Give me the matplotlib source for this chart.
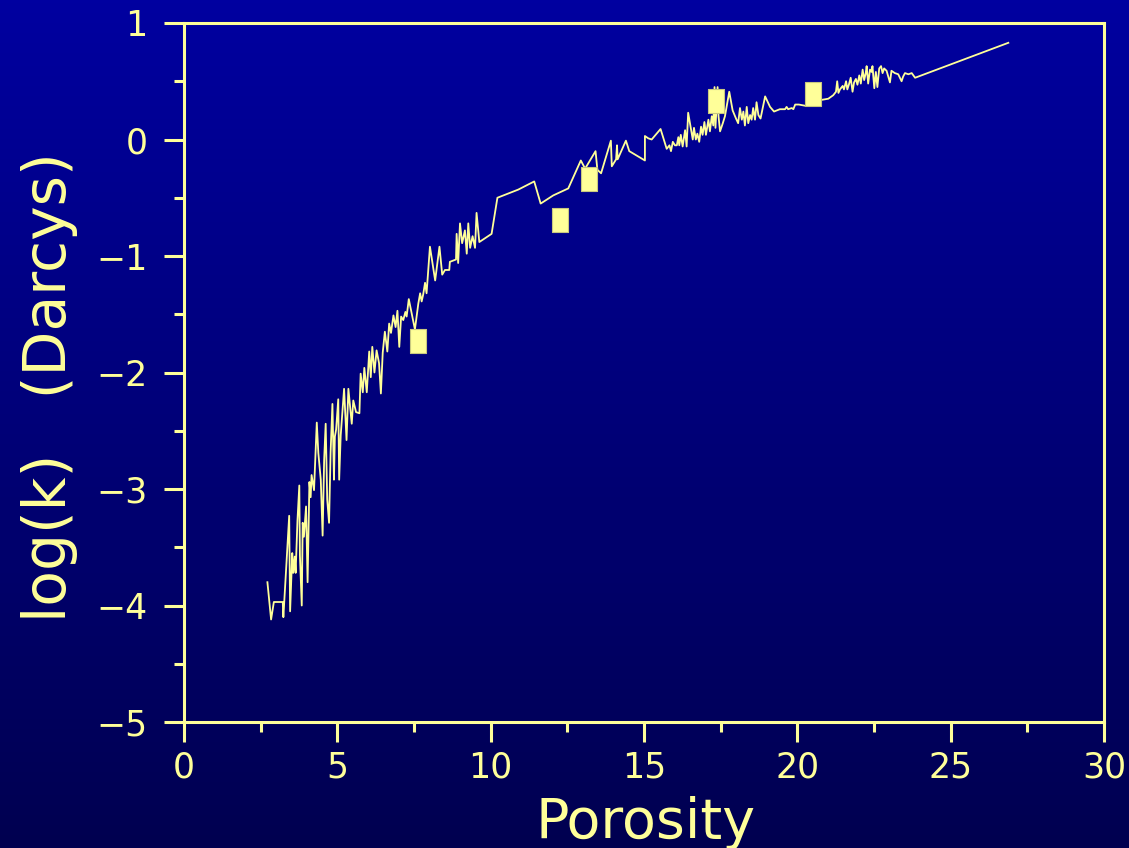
import numpy as np
import matplotlib
matplotlib.use("Agg")
import matplotlib.pyplot as plt
from matplotlib.path import Path
from matplotlib.ticker import MultipleLocator

# ---- data ----
porosity = [
    2.72, 2.84, 2.93, 3.22, 3.24, 3.43, 3.46, 3.53, 3.56, 3.61, 3.64, 3.70, 3.76, 3.78, 3.84,
    3.87, 3.91, 3.98, 4.03, 4.09, 4.13, 4.16, 4.24, 4.33, 4.38, 4.46, 4.52, 4.57, 4.62, 4.67,
    4.73, 4.78, 4.84, 4.89, 4.92, 4.96, 5.03, 5.06, 5.11, 5.22, 5.30, 5.36, 5.47, 5.52, 5.61,
    5.72, 5.76, 5.83, 5.88, 5.96, 6.04, 6.09, 6.14, 6.21, 6.28, 6.36, 6.42, 6.48, 6.55, 6.63,
    6.69, 6.75, 6.83, 6.90, 6.96, 7.02, 7.08, 7.15, 7.22, 7.26, 7.33, 7.53, 7.64, 7.70, 7.75,
    7.80, 7.86, 7.91, 8.02, 8.19, 8.33, 8.42, 8.51, 8.65, 8.67, 8.87, 8.89, 8.94, 9.00, 9.07,
    9.16, 9.22, 9.27, 9.33, 9.41, 9.49, 9.54, 9.63, 10.03, 10.22, 10.90, 11.42, 11.63, 12.04, 12.53,
    12.94, 13.08, 13.42, 13.48, 13.60, 13.92, 13.95, 14.09, 14.12, 14.14, 14.41, 14.52, 15.03, 15.03,
    15.14, 15.25, 15.54, 15.74, 15.83, 15.88, 15.94, 16.01, 16.07, 16.12, 16.15, 16.20, 16.26,
    16.34, 16.39, 16.44, 16.52, 16.59, 16.63, 16.69, 16.74, 16.80, 16.86, 16.91, 16.97, 17.02,
    17.10, 17.15, 17.21, 17.26, 17.30, 17.33, 17.40, 17.43, 17.48, 17.57, 17.64, 17.78, 17.89,
    18.00, 18.07, 18.13, 18.19, 18.24, 18.29, 18.35, 18.40, 18.46, 18.51, 18.56, 18.62, 18.67,
    18.73, 18.80, 18.95, 19.11, 19.24, 19.43, 19.60, 19.65, 19.70, 19.82, 19.87, 19.93, 20.05,
    20.25, 20.79, 21.01, 21.17, 21.26, 21.30, 21.34, 21.39, 21.48, 21.52, 21.59, 21.63, 21.68,
    21.74, 21.80, 21.85, 21.91, 21.96, 22.02, 22.07, 22.13, 22.18, 22.23, 22.26, 22.31, 22.37,
    22.42, 22.45, 22.51, 22.56, 22.61, 22.67, 22.73, 22.78, 22.83, 22.91, 23.02, 23.07, 23.18,
    23.29, 23.40, 23.45, 23.51, 23.62, 23.73, 23.84, 26.88,
]
log_k = [
    -3.80, -4.12, -3.97, -3.97, -4.10, -3.23, -4.05, -3.55, -3.72, -3.58, -3.72, -3.27, -2.97, -3.57, -4.00,
    -3.29, -3.41, -3.15, -3.80, -2.94, -3.07, -2.88, -3.01, -2.43, -2.69, -2.92, -3.40, -2.75, -2.44, -3.09,
    -3.29, -2.69, -2.27, -2.92, -2.55, -2.49, -2.23, -2.92, -2.54, -2.14, -2.58, -2.14, -2.44, -2.24, -2.34,
    -2.35, -2.01, -2.17, -1.96, -2.17, -1.82, -2.04, -1.78, -2.00, -1.81, -1.92, -2.18, -1.83, -1.65, -1.82,
    -1.58, -1.66, -1.51, -1.61, -1.47, -1.78, -1.52, -1.55, -1.48, -1.52, -1.37, -1.63, -1.41, -1.32, -1.39,
    -1.33, -1.23, -1.32, -0.92, -1.21, -0.92, -1.16, -1.12, -1.12, -1.05, -1.03, -0.81, -1.06, -0.72, -0.89,
    -0.78, -0.98, -0.72, -0.93, -0.83, -0.93, -0.63, -0.88, -0.81, -0.50, -0.43, -0.36, -0.55, -0.48, -0.42,
    -0.18, -0.25, -0.10, -0.26, -0.29, -0.01, -0.23, -0.17, -0.05, -0.17, -0.01, -0.10, -0.18, 0.03,
    0.01, 0.00, 0.09, -0.08, -0.05, -0.10, -0.02, -0.05, -0.05, 0.02, -0.05, 0.04, -0.06,
    0.08, -0.06, 0.23, 0.11, 0.00, 0.10, 0.00, 0.05, -0.02, 0.11, 0.04, 0.15, 0.04,
    0.17, 0.07, 0.20, 0.12, 0.45, 0.10, 0.45, 0.20, 0.07, 0.14, 0.20, 0.41, 0.25,
    0.18, 0.14, 0.27, 0.17, 0.24, 0.12, 0.28, 0.14, 0.21, 0.17, 0.27, 0.17, 0.32,
    0.21, 0.18, 0.37, 0.28, 0.24, 0.26, 0.26, 0.28, 0.26, 0.27, 0.26, 0.30, 0.30,
    0.29, 0.34, 0.35, 0.38, 0.41, 0.50, 0.40, 0.43, 0.46, 0.43, 0.50, 0.43, 0.47,
    0.53, 0.41, 0.49, 0.52, 0.47, 0.55, 0.48, 0.60, 0.51, 0.57, 0.63, 0.48, 0.60,
    0.58, 0.63, 0.44, 0.58, 0.45, 0.61, 0.63, 0.57, 0.61, 0.59, 0.49, 0.59, 0.57,
    0.56, 0.50, 0.54, 0.57, 0.56, 0.57, 0.53, 0.83,
]
sample_porosity = [7.63, 12.26, 13.20, 17.35, 20.50]
sample_log_k = [-1.73, -0.69, -0.34, 0.33, 0.39]

x_ticks = [0, 5, 10, 15, 20, 25, 30]
y_ticks = [-5, -4, -3, -2, -1, 0, 1]

YEL = "#ffff99"

fig = plt.figure(figsize=(11.29, 8.48), dpi=100)

# gradient background
bg = fig.add_axes([0, 0, 1, 1], zorder=-10)
grad = np.linspace(0, 1, 256).reshape(-1, 1)
top = np.array([0, 0, 160]) / 255.0
bot = np.array([0, 0, 80]) / 255.0
img = top[None, None, :] * (1 - grad[:, :, None]) + bot[None, None, :] * grad[:, :, None]
bg.imshow(img, aspect="auto", extent=[0, 1, 0, 1], origin="upper")
bg.set_axis_off()

ax = fig.add_axes([184 / 1129, 1 - 722 / 848, (1104 - 184) / 1129, (722 - 23) / 848])
ax.set_facecolor("none")

ax.plot(porosity, log_k, color=YEL, lw=1.3, zorder=3)

rect = Path([(-0.35, -0.5), (0.35, -0.5), (0.35, 0.5), (-0.35, 0.5), (-0.35, -0.5)],
            [Path.MOVETO, Path.LINETO, Path.LINETO, Path.LINETO, Path.CLOSEPOLY])
ax.plot(sample_porosity, sample_log_k, linestyle="none", marker=rect, markersize=16.6,
        markerfacecolor=YEL, markeredgecolor="#c8c880", markeredgewidth=0.8, zorder=4)

ax.set_xlim(0, 30)
ax.set_ylim(-5, 1)
ax.set_xticks(x_ticks)
ax.set_yticks(y_ticks)
ax.xaxis.set_minor_locator(MultipleLocator(2.5))
ax.yaxis.set_minor_locator(MultipleLocator(0.5))

for sp in ax.spines.values():
    sp.set_color(YEL)
    sp.set_linewidth(2.2)

ax.tick_params(axis="both", which="major", direction="out", length=14.4, width=2.2,
               color=YEL, labelcolor=YEL, labelsize=25)
ax.tick_params(axis="both", which="minor", direction="out", length=7.2, width=2.2, color=YEL)
ax.tick_params(axis="x", which="major", pad=6)
ax.tick_params(axis="y", which="major", pad=12)

fig.text(646 / 1129, 1 - 838 / 848, "Porosity", color=YEL, fontsize=40,
         ha="center", va="baseline")
fig.text(50 / 1129, 1 - 387 / 848, "log(k)   (Darcys)", color=YEL, fontsize=42,
         ha="center", va="center", rotation=90)

fig.savefig("out.png", dpi=100)
